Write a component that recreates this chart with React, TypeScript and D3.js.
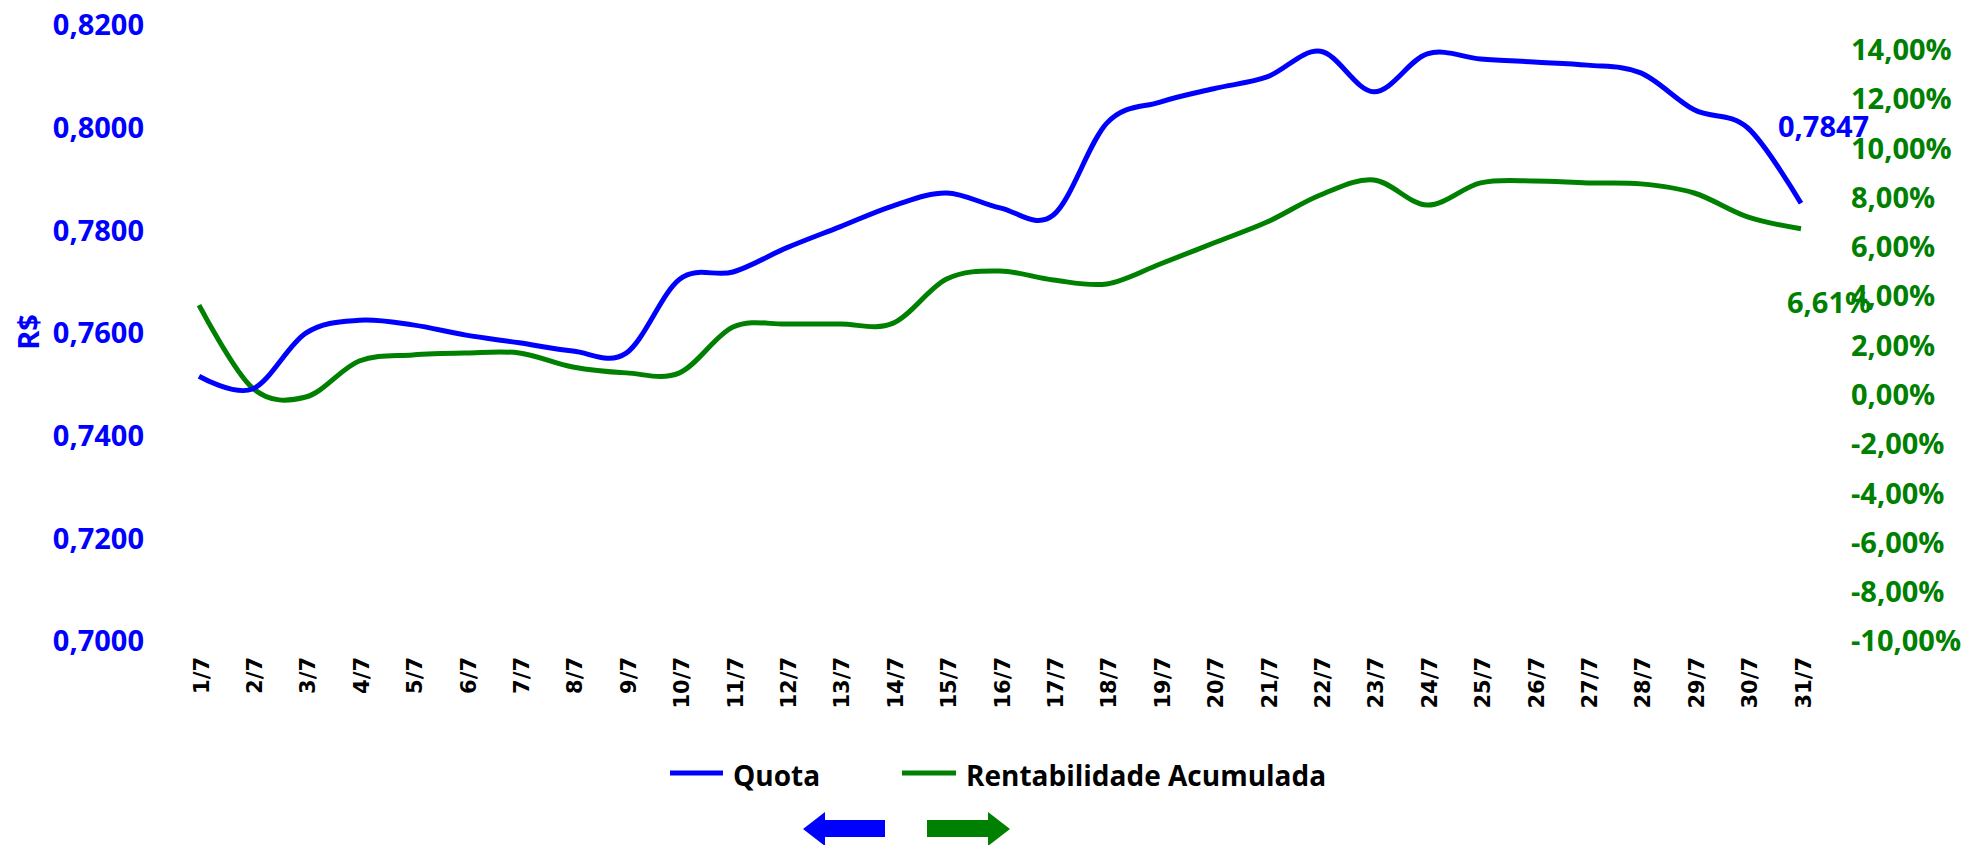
import React from "react";
import * as d3 from "d3";

const dates = [
  "1/7", "2/7", "3/7", "4/7", "5/7", "6/7", "7/7", "8/7", "9/7", "10/7",
  "11/7", "12/7", "13/7", "14/7", "15/7", "16/7", "17/7", "18/7", "19/7", "20/7",
  "21/7", "22/7", "23/7", "24/7", "25/7", "26/7", "27/7", "28/7", "29/7", "30/7", "31/7",
];

const quota = [
  0.7510, 0.7485, 0.7594, 0.7619, 0.7610, 0.7590, 0.7575, 0.7559, 0.7555, 0.7699,
  0.7713, 0.7760, 0.7801, 0.7842, 0.7867, 0.7838, 0.7824, 0.8003, 0.8044, 0.8070,
  0.8093, 0.8143, 0.8064, 0.8138, 0.8128, 0.8122, 0.8116, 0.8101, 0.8029, 0.7994, 0.7847,
];

const rentabilidade = [
  3.51, 0.15, -0.22, 1.24, 1.49, 1.57, 1.57, 1.00, 0.76, 0.76,
  2.62, 2.74, 2.74, 2.78, 4.57, 4.89, 4.53, 4.37, 5.18, 6.03,
  6.88, 7.98, 8.59, 7.57, 8.47, 8.55, 8.47, 8.43, 8.06, 7.09, 6.61,
];

const leftTicks = [0.70, 0.72, 0.74, 0.76, 0.78, 0.80, 0.82];
const rightTicks = [-10, -8, -6, -4, -2, 0, 2, 4, 6, 8, 10, 12, 14];

const seriesNames = ["Quota", "Rentabilidade Acumulada"];

const BLUE = "#0000FF";
const GREEN = "#008000";
const AXIS_FONT = "'Open Sans', 'Liberation Sans', sans-serif";
const CAT_FONT = "'DejaVu Sans', 'Liberation Sans', sans-serif";

export default function App() {
  const W = 1972;
  const H = 845;
  const top = 22;
  const bottom = 638;

  const x = d3.scalePoint<string>().domain(dates).range([199, 1801]);
  const yL = d3.scaleLinear().domain([0.70, 0.82]).range([bottom, top]);
  const yR = d3.scaleLinear().domain([-10, 15]).range([bottom, top]);

  const curve = d3.curveCatmullRom.alpha(0);
  const lineQ = d3
    .line<number>()
    .x((_, i) => x(dates[i]) as number)
    .y((d) => yL(d))
    .curve(curve);
  const lineR = d3
    .line<number>()
    .x((_, i) => x(dates[i]) as number)
    .y((d) => yR(d))
    .curve(curve);

  const fmtL = (v: number) => v.toFixed(4).replace(".", ",");
  const fmtR = (v: number) => v.toFixed(2).replace(".", ",") + "%";

  const fs = 29;
  const lastI = dates.length - 1;
  const lastX = x(dates[lastI]) as number;

  // legend
  const legY = 773;

  return (
    <svg
      width={W}
      height={H}
      style={{ position: "absolute", left: 0, top: 0, background: "#fff" }}
    >
      {/* left axis labels */}
      <g fontFamily={AXIS_FONT} fontWeight={700} fontSize={fs} fill={BLUE}>
        {leftTicks.map((t) => (
          <text key={t} x={144} y={yL(t) + 3 + 0.357 * fs} textAnchor="end">
            {fmtL(t)}
          </text>
        ))}
      </g>
      <text
        transform={`translate(${29 + 0.357 * fs},332) rotate(-90)`}
        textAnchor="middle"
        fontFamily={AXIS_FONT}
        fontWeight={700}
        fontSize={fs}
        fill={BLUE}
      >
        R$
      </text>

      {/* right axis labels */}
      <g fontFamily={AXIS_FONT} fontWeight={700} fontSize={fs} fill={GREEN}>
        {rightTicks.map((t) => (
          <text key={t} x={1851} y={yR(t) + 3 + 0.357 * fs} textAnchor="start">
            {fmtR(t)}
          </text>
        ))}
      </g>

      {/* category labels */}
      <g fontFamily={CAT_FONT} fontWeight={700} fontSize={21} fill="#000">
        {dates.map((d) => (
          <text
            key={d}
            transform={`translate(${(x(d) as number) + 2},657) rotate(-90)`}
            textAnchor="end"
            dy="0.36em"
          >
            {d}
          </text>
        ))}
      </g>

      {/* lines */}
      <path d={lineR(rentabilidade) || ""} fill="none" stroke={GREEN} strokeWidth={5} />
      <path d={lineQ(quota) || ""} fill="none" stroke={BLUE} strokeWidth={5} />

      {/* data labels */}
      <text
        x={lastX - 23}
        y={yL(quota[lastI]) - 77 + 0.357 * fs}
        fontFamily={AXIS_FONT}
        fontWeight={700}
        fontSize={fs}
        fill={BLUE}
      >
        {fmtL(quota[lastI])}
      </text>
      <text
        x={lastX - 14}
        y={yR(rentabilidade[lastI]) + 74 + 0.357 * fs}
        fontFamily={AXIS_FONT}
        fontWeight={700}
        fontSize={fs}
        fill={GREEN}
      >
        {fmtR(rentabilidade[lastI])}
      </text>

      {/* legend */}
      <line x1={670} x2={723} y1={legY} y2={legY} stroke={BLUE} strokeWidth={5} />
      <text
        x={733}
        y={786}
        fontFamily={AXIS_FONT}
        fontWeight={700}
        fontSize={28}
        fill="#000"
      >
        {seriesNames[0]}
      </text>
      <line x1={902} x2={956} y1={legY} y2={legY} stroke={GREEN} strokeWidth={5} />
      <text
        x={966}
        y={786}
        fontFamily={AXIS_FONT}
        fontWeight={700}
        fontSize={28}
        fill="#000"
      >
        {seriesNames[1]}
      </text>

      {/* arrows */}
      <path
        d="M803,829 L825,812 L825,820 L885,820 L885,837 L825,837 L825,846 Z"
        fill={BLUE}
      />
      <path
        d="M1010,829 L988,812 L988,820 L927,820 L927,837 L988,837 L988,846 Z"
        fill={GREEN}
      />
    </svg>
  );
}
